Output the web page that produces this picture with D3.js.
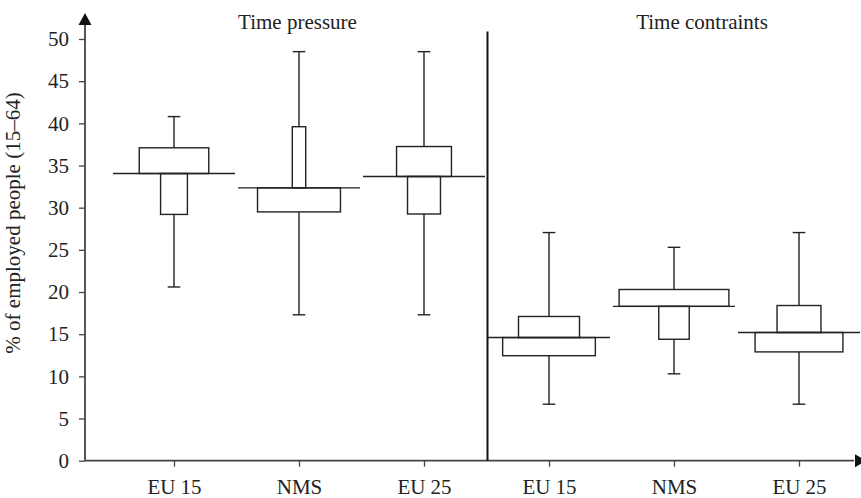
<!DOCTYPE html>
<html>
<head>
<meta charset="utf-8">
<script src="https://cdn.jsdelivr.net/npm/d3@7"></script>
<style>
  html, body { margin: 0; padding: 0; background: #fff; }
  svg text { font-family: "Liberation Serif", "Times New Roman", serif; fill: #222; }
</style>
</head>
<body>
<svg id="chart" width="861" height="498"></svg>
<script>
// Panels and category labels
const panels = ["Time pressure", "Time contraints"];
const categories = ["EU 15", "NMS", "EU 25", "EU 15", "NMS", "EU 25"];

// Distribution summary per category (% of employed people 15–64)
const whiskerHigh = [40.8, 48.5, 48.5, 27.05, 25.3, 27.05];
const upperEdge   = [37.1, 39.6, 37.25, 17.1, 20.3, 18.4];
const centerLine  = [34.05, 32.35, 33.7, 14.6, 18.3, 15.2];
const lowerEdge   = [29.2, 29.5, 29.25, 12.45, 14.4, 12.9];
const whiskerLow  = [20.6, 17.3, 17.3, 6.7, 10.3, 6.7];

// Relative box widths (share of the reference line width)
const upperShare = [0.57, 0.11, 0.45, 0.50, 0.90, 0.36];
const lowerShare = [0.22, 0.68, 0.27, 0.76, 0.25, 0.72];

const yTicks = d3.range(0, 51, 5);

const svg = d3.select("#chart");
const ink = "#222";
const axisInk = "#444";
const fontSize = 21;

const x0 = 85, xEnd = 860, yBase = 460.7, yTop = 13;
const y = d3.scaleLinear().domain([0, 50]).range([yBase, 39]);
const idx = categories.map((d, i) => i);
const x = d3.scalePoint().domain(idx).range([174, 799]);
const lineW = 122;
const w = d3.scaleLinear().domain([0, 1]).range([0, lineW]);
const capW = 12.6;

// Y axis
const yAxis = d3.axisLeft(y).tickValues(yTicks).tickSize(6).tickPadding(10).tickSizeOuter(0);
const gy = svg.append("g").attr("transform", `translate(${x0},0)`).call(yAxis);
gy.select(".domain").remove();
gy.selectAll(".tick line").attr("stroke", axisInk).attr("stroke-width", 1.3);
gy.selectAll(".tick text").attr("font-size", fontSize).attr("fill", ink)
  .style("font-family", '"Liberation Serif", serif');

// X axis
const xAxis = d3.axisBottom(x).tickFormat(i => categories[i]).tickSize(6).tickPadding(12.6).tickSizeOuter(0);
const gx = svg.append("g").attr("transform", `translate(0,${yBase})`).call(xAxis);
gx.select(".domain").remove();
gx.selectAll(".tick line").attr("stroke", axisInk).attr("stroke-width", 1.3);
gx.selectAll(".tick text").attr("font-size", fontSize).attr("fill", ink)
  .style("font-family", '"Liberation Serif", serif');

// Axis lines with arrow heads
svg.append("line").attr("x1", x0).attr("x2", x0).attr("y1", yBase).attr("y2", yTop + 10)
  .attr("stroke", axisInk).attr("stroke-width", 1.8);
svg.append("path").attr("d", `M${x0},${yTop} L${x0 - 6.5},${yTop + 12} L${x0 + 6.5},${yTop + 12} Z`).attr("fill", "#111");
svg.append("line").attr("x1", x0).attr("x2", xEnd - 6).attr("y1", yBase).attr("y2", yBase)
  .attr("stroke", axisInk).attr("stroke-width", 1.8);
svg.append("path").attr("d", `M${xEnd + 6},${yBase} L${xEnd - 5},${yBase - 6.5} L${xEnd - 5},${yBase + 6.5} Z`).attr("fill", "#111");

// Panel separator
const sepX = (x(2) + x(3)) / 2 + 1;
svg.append("line").attr("x1", sepX).attr("x2", sepX).attr("y1", 31.5).attr("y2", yBase)
  .attr("stroke", "#111").attr("stroke-width", 2);

// Panel titles
const titleX = [x(1) - 1.5, x(4) + 28];
svg.selectAll("text.panel").data(panels).join("text")
  .attr("class", "panel")
  .attr("x", (d, i) => titleX[i]).attr("y", 28.5)
  .attr("text-anchor", "middle").attr("font-size", fontSize)
  .text(d => d);

// Y axis title
svg.append("text")
  .attr("transform", `translate(20,${223}) rotate(-90)`)
  .attr("text-anchor", "middle").attr("font-size", fontSize)
  .text("% of employed people (15\u201364)");

// Boxes
const g = svg.append("g").attr("fill", "none").attr("stroke", ink).attr("stroke-width", 1.4);
idx.forEach(i => {
  const cx = x(i);
  // whiskers
  g.append("line").attr("x1", cx).attr("x2", cx).attr("y1", y(upperEdge[i])).attr("y2", y(whiskerHigh[i]));
  g.append("line").attr("x1", cx - capW / 2).attr("x2", cx + capW / 2).attr("y1", y(whiskerHigh[i])).attr("y2", y(whiskerHigh[i]));
  g.append("line").attr("x1", cx).attr("x2", cx).attr("y1", y(lowerEdge[i])).attr("y2", y(whiskerLow[i]));
  g.append("line").attr("x1", cx - capW / 2).attr("x2", cx + capW / 2).attr("y1", y(whiskerLow[i])).attr("y2", y(whiskerLow[i]));
  // upper box
  const uw = w(upperShare[i]);
  g.append("rect").attr("x", cx - uw / 2).attr("width", uw)
    .attr("y", y(upperEdge[i])).attr("height", y(centerLine[i]) - y(upperEdge[i]));
  // lower box
  const lw = w(lowerShare[i]);
  g.append("rect").attr("x", cx - lw / 2).attr("width", lw)
    .attr("y", y(centerLine[i])).attr("height", y(lowerEdge[i]) - y(centerLine[i]));
  // reference line
  g.append("line").attr("x1", cx - lineW / 2).attr("x2", cx + lineW / 2)
    .attr("y1", y(centerLine[i])).attr("y2", y(centerLine[i]));
});
</script>
</body>
</html>
